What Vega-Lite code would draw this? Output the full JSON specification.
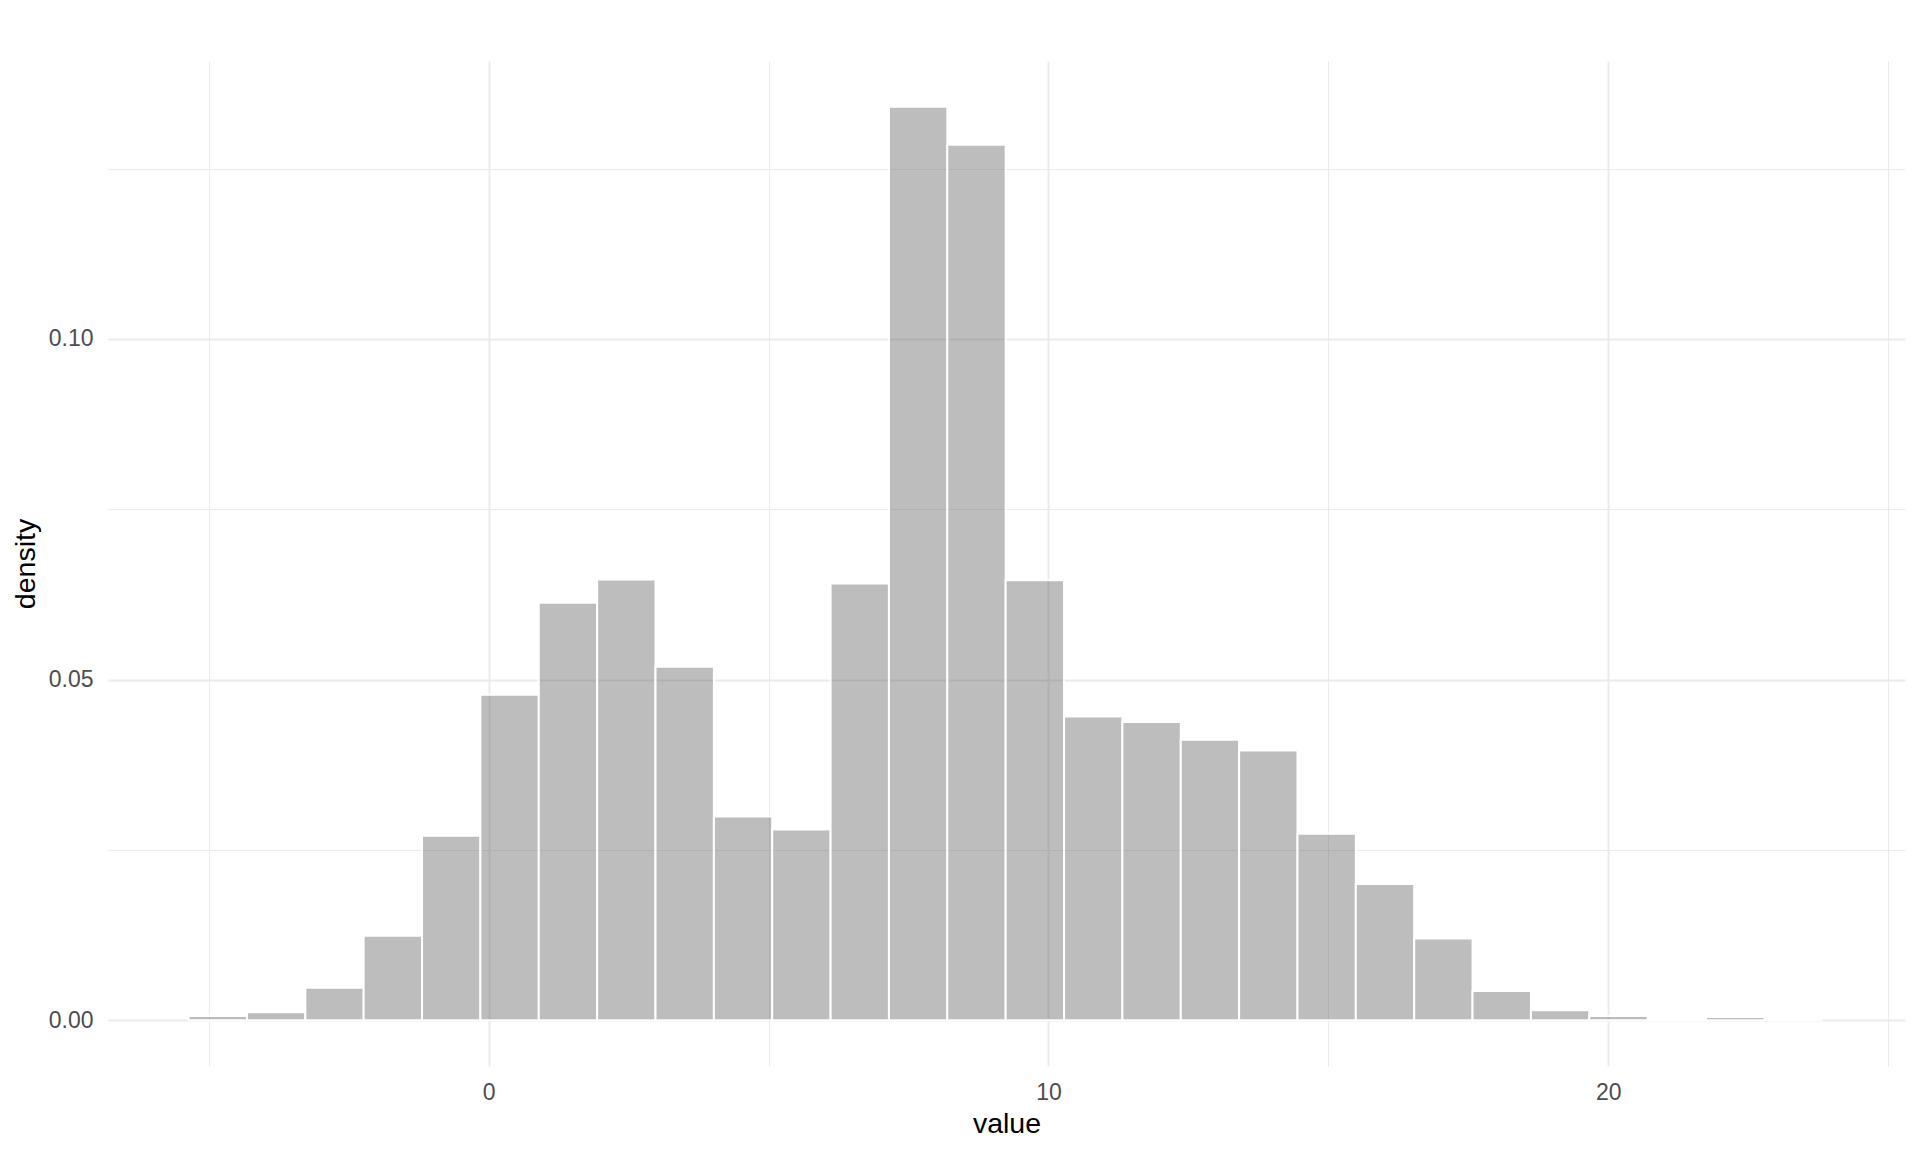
{
  "$schema": "https://vega.github.io/schema/vega-lite/v6.json",
  "width": 1797,
  "height": 1005,
  "autosize": {"type": "none"},
  "padding": {"left": 108, "top": 61, "right": 15, "bottom": 86},
  "background": "white",
  "data": {
    "values": [
      {"bin_start": -5.360, "bin_end": -4.318, "density": 0.00063},
      {"bin_start": -4.318, "bin_end": -3.275, "density": 0.0012},
      {"bin_start": -3.275, "bin_end": -2.233, "density": 0.0048},
      {"bin_start": -2.233, "bin_end": -1.190, "density": 0.0124},
      {"bin_start": -1.190, "bin_end": -0.148, "density": 0.0271},
      {"bin_start": -0.148, "bin_end": 0.895, "density": 0.0478},
      {"bin_start": 0.895, "bin_end": 1.938, "density": 0.0613},
      {"bin_start": 1.938, "bin_end": 2.980, "density": 0.0647},
      {"bin_start": 2.980, "bin_end": 4.023, "density": 0.0519},
      {"bin_start": 4.023, "bin_end": 5.065, "density": 0.0299},
      {"bin_start": 5.065, "bin_end": 6.108, "density": 0.0280},
      {"bin_start": 6.108, "bin_end": 7.150, "density": 0.0641},
      {"bin_start": 7.150, "bin_end": 8.193, "density": 0.1341},
      {"bin_start": 8.193, "bin_end": 9.235, "density": 0.1285},
      {"bin_start": 9.235, "bin_end": 10.278, "density": 0.0646},
      {"bin_start": 10.278, "bin_end": 11.320, "density": 0.0446},
      {"bin_start": 11.320, "bin_end": 12.363, "density": 0.0438},
      {"bin_start": 12.363, "bin_end": 13.405, "density": 0.0412},
      {"bin_start": 13.405, "bin_end": 14.448, "density": 0.0396},
      {"bin_start": 14.448, "bin_end": 15.490, "density": 0.0274},
      {"bin_start": 15.490, "bin_end": 16.533, "density": 0.0200},
      {"bin_start": 16.533, "bin_end": 17.575, "density": 0.0120},
      {"bin_start": 17.575, "bin_end": 18.618, "density": 0.0043},
      {"bin_start": 18.618, "bin_end": 19.660, "density": 0.0015},
      {"bin_start": 19.660, "bin_end": 20.703, "density": 0.00063},
      {"bin_start": 20.703, "bin_end": 21.745, "density": 0},
      {"bin_start": 21.745, "bin_end": 22.788, "density": 0.0005},
      {"bin_start": 22.788, "bin_end": 23.830, "density": 0}
    ]
  },
  "mark": {
    "type": "rect",
    "fill": "#595959",
    "fillOpacity": 0.4,
    "stroke": "white",
    "strokeWidth": 2
  },
  "encoding": {
    "x": {
      "field": "bin_start",
      "type": "quantitative",
      "scale": {"domain": [-6.80, 25.30], "nice": false, "zero": false},
      "axis": {
        "title": "value",
        "values": [-5, 0, 5, 10, 15, 20, 25],
        "labelExpr": "datum.value % 10 === 0 ? datum.label : ''",
        "gridWidth": {"condition": {"test": "datum.value % 10 === 0", "value": 2}, "value": 1},
        "labelPadding": 15,
        "titleY": 66,
        "titleBaseline": "alphabetic"
      }
    },
    "x2": {"field": "bin_end"},
    "y": {
      "field": "density",
      "type": "quantitative",
      "scale": {"domain": [-0.0067, 0.1408], "nice": false, "zero": false},
      "axis": {
        "title": "density",
        "values": [0, 0.025, 0.05, 0.075, 0.1, 0.125],
        "labelExpr": "round(datum.value * 1000) % 50 === 0 ? format(datum.value, '.2f') : ''",
        "gridWidth": {"condition": {"test": "round(datum.value * 1000) % 50 === 0", "value": 2}, "value": 1},
        "labelPadding": 15,
        "titleX": -74,
        "titleBaseline": "alphabetic"
      }
    },
    "y2": {"datum": 0}
  },
  "config": {
    "view": {"stroke": null},
    "axis": {
      "domain": false,
      "ticks": false,
      "tickSize": 0,
      "grid": true,
      "gridColor": "#EBEBEB",
      "labelFont": "Liberation Sans",
      "labelFontSize": 23,
      "labelColor": "#4D4D4D",
      "titleFont": "Liberation Sans",
      "titleFontSize": 28.5,
      "titleFontWeight": "normal",
      "titleColor": "black",
      "labelFlush": false,
      "labelOverlap": false
    }
  }
}
